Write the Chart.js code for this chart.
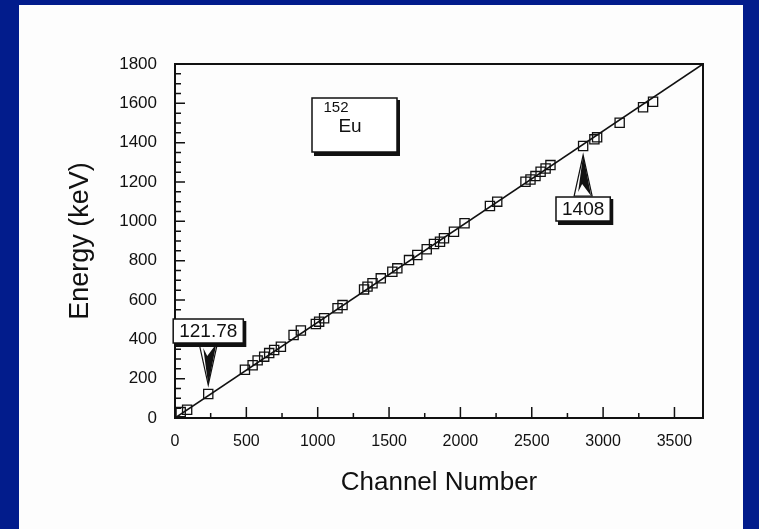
<!DOCTYPE html>
<html>
<head>
<meta charset="utf-8">
<style>
  html, body { margin: 0; padding: 0; background: #021c8c; }
  #wrap { width: 759px; height: 529px; }
</style>
<script src="https://cdn.jsdelivr.net/npm/chart.js@4.4.1/dist/chart.umd.min.js"></script>
</head>
<body>
<div id="wrap"><canvas id="myChart" width="759" height="529"></canvas></div>
<script>
// calibration points of 152Eu (channel -> energy)
const channels = [40, 85, 233, 490, 544, 579, 625, 660, 695, 742, 831, 882,
  987, 1010, 1045, 1139, 1174, 1325, 1349, 1384, 1442, 1523, 1558, 1640, 1698,
  1764, 1815, 1857, 1885, 1955, 2029, 2207, 2258, 2456, 2491, 2526, 2562, 2597,
  2631, 2860, 2939, 2958, 3116, 3280, 3350];
const energies = [30, 42, 122, 245, 268, 293, 312, 330, 346, 362, 422, 445,
  478, 490, 507, 558, 574, 654, 668, 685, 710, 744, 761, 803, 829,
  858, 885, 896, 914, 947, 990, 1078, 1100, 1201, 1213, 1230, 1252, 1269,
  1286, 1383, 1417, 1427, 1501, 1580, 1608];

// straight calibration line
const fitChannels = [0, 3700];
const fitEnergies = [0, 1800];

const xTicks = [0, 500, 1000, 1500, 2000, 2500, 3000, 3500];
const xMinorTicks = [250, 750, 1250, 1750, 2250, 2750, 3250];
const yTicks = [0, 200, 400, 600, 800, 1000, 1200, 1400, 1600, 1800];
const yMinorStep = 50;

// labelled peaks
const calloutTexts = ['121.78', '1408'];
const calloutChannels = [233, 2860];
const calloutEnergies = [122, 1383];
const calloutSide = ['above', 'below'];

const FONT = "'Liberation Sans', Arial, sans-serif";
const INK = '#111';

const pointData = channels.map((c, i) => ({x: c, y: energies[i]}));
const lineData = fitChannels.map((c, i) => ({x: c, y: fitEnergies[i]}));

// blue slide + white page
const pagePlugin = {
  id: 'page',
  beforeDraw(chart) {
    const ctx = chart.ctx;
    ctx.save();
    ctx.fillStyle = '#021c8c';
    ctx.fillRect(0, 0, chart.width, chart.height);
    ctx.fillStyle = '#fdfdfd';
    ctx.fillRect(19, 5, 724, 524);
    ctx.restore();
  }
};

// frame + inward ticks
const framePlugin = {
  id: 'frame',
  beforeDatasetsDraw(chart) {
    const {ctx, chartArea: a, scales: {x, y}} = chart;
    ctx.save();
    ctx.strokeStyle = INK;
    ctx.lineWidth = 2;
    ctx.strokeRect(a.left, a.top, a.right - a.left, a.bottom - a.top);
    ctx.lineWidth = 1.5;
    ctx.beginPath();
    xTicks.forEach(v => {
      const px = x.getPixelForValue(v);
      if (v === 0) return;
      ctx.moveTo(px, a.bottom); ctx.lineTo(px, a.bottom - 11);
    });
    xMinorTicks.forEach(v => {
      const px = x.getPixelForValue(v);
      ctx.moveTo(px, a.bottom); ctx.lineTo(px, a.bottom - 5);
    });
    for (let v = 0; v <= 1800; v += yMinorStep) {
      const py = y.getPixelForValue(v);
      const len = yTicks.includes(v) ? 10 : 6;
      ctx.moveTo(a.left, py); ctx.lineTo(a.left + len, py);
    }
    ctx.stroke();
    ctx.restore();
  }
};

function shadowBox(ctx, x0, y0, w, h) {
  ctx.fillStyle = INK;
  ctx.fillRect(x0 + 2, y0 + 2, w + 1, h + 2);
  ctx.fillStyle = '#fff';
  ctx.fillRect(x0, y0, w, h);
  ctx.strokeStyle = INK;
  ctx.lineWidth = 1.5;
  ctx.strokeRect(x0, y0, w, h);
}

function dart(ctx, cx, baseY, tipY) {
  const dir = tipY > baseY ? 1 : -1;
  ctx.beginPath();
  ctx.moveTo(cx - 9, baseY);
  ctx.lineTo(cx + 9, baseY);
  ctx.lineTo(cx, tipY);
  ctx.closePath();
  ctx.lineWidth = 1.2;
  ctx.strokeStyle = INK;
  ctx.stroke();
  ctx.beginPath();
  ctx.moveTo(cx - 1, baseY + dir * 12);
  ctx.lineTo(cx + 8, baseY);
  ctx.lineTo(cx, tipY);
  ctx.lineTo(cx - 5, baseY + dir * 4);
  ctx.closePath();
  ctx.fillStyle = INK;
  ctx.fill();
}

const calloutPlugin = {
  id: 'callouts',
  afterDatasetsDraw(chart) {
    const {ctx, chartArea: a, scales: {x, y}} = chart;
    ctx.save();
    calloutTexts.forEach((t, i) => {
      const px = x.getPixelForValue(calloutChannels[i]);
      const py = y.getPixelForValue(calloutEnergies[i]);
      ctx.font = '19px ' + FONT;
      const w = ctx.measureText(t).width + 12;
      const h = 24;
      let boxY, tip, base;
      if (calloutSide[i] === 'above') {
        boxY = py - 51 - h; base = py - 50; tip = py - 9;
      } else {
        boxY = py + 51; base = py + 50; tip = py + 9;
      }
      shadowBox(ctx, px - w / 2, boxY, w, h);
      ctx.fillStyle = INK;
      ctx.textAlign = 'center';
      ctx.textBaseline = 'middle';
      ctx.fillText(t, px, boxY + h / 2 + 1);
      dart(ctx, px, base, tip);
    });
    // isotope label box
    const bx = a.left + 137, by = a.top + 34;
    shadowBox(ctx, bx, by, 85, 54);
    ctx.fillStyle = INK;
    ctx.textAlign = 'center';
    ctx.textBaseline = 'middle';
    ctx.font = '15px ' + FONT;
    ctx.fillText('152', bx + 24, by + 10);
    ctx.font = '19px ' + FONT;
    ctx.fillText('Eu', bx + 38, by + 29);
    ctx.restore();
  }
};

const ctx = document.getElementById('myChart');

const myChart = new Chart(ctx, {
  type: 'scatter',
  data: {
    datasets: [
      {
        type: 'line',
        data: lineData,
        borderColor: INK,
        borderWidth: 1.6,
        pointRadius: 0,
        fill: false,
        order: 2
      },
      {
        data: pointData,
        pointStyle: 'rect',
        pointRadius: 6.5,
        borderColor: INK,
        borderWidth: 1.3,
        backgroundColor: 'rgba(0,0,0,0)',
        order: 1
      }
    ]
  },
  options: {
    responsive: false,
    devicePixelRatio: 1,
    animation: false,
    layout: { padding: { left: 0, top: 64, right: 56, bottom: 0 } },
    plugins: { legend: { display: false }, tooltip: { enabled: false } },
    scales: {
      x: {
        type: 'linear',
        min: 0,
        max: 3700,
        afterBuildTicks: s => { s.ticks = xTicks.map(v => ({value: v})); },
        afterFit: s => { s.height = 111; },
        grid: { display: false, drawTicks: false },
        border: { display: false },
        ticks: { padding: 14, color: INK, callback: v => String(v), font: { family: FONT, size: 16 } },
        title: {
          display: true,
          text: 'Channel Number',
          color: INK,
          font: { family: FONT, size: 26 },
          padding: { top: 0, bottom: 31 }
        }
      },
      y: {
        min: 0,
        max: 1800,
        afterBuildTicks: s => { s.ticks = yTicks.map(v => ({value: v})); },
        afterFit: s => { s.width = 175; },
        grid: { display: false, drawTicks: false },
        border: { display: false },
        ticks: { padding: 18, color: INK, callback: v => String(v), font: { family: FONT, size: 17 } },
        title: {
          display: true,
          text: 'Energy (keV)',
          color: INK,
          font: { family: FONT, size: 27 },
          padding: { top: 64, bottom: 0 }
        }
      }
    }
  },
  plugins: [pagePlugin, framePlugin, calloutPlugin]
});
</script>
</body>
</html>
